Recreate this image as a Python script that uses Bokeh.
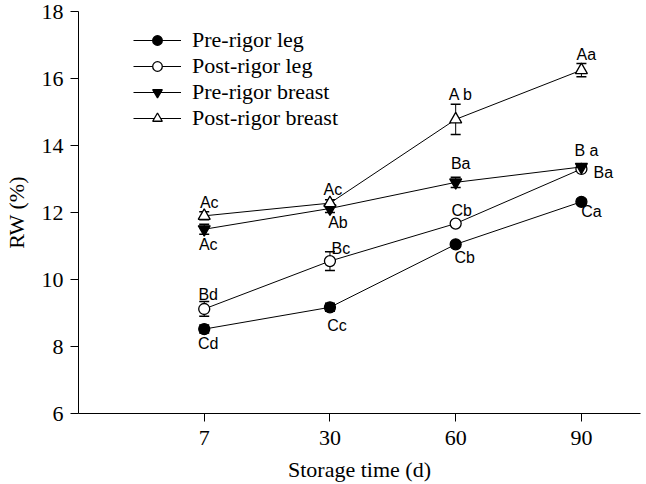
from bokeh.plotting import figure
from bokeh.models import (ColumnDataSource, Whisker, TeeHead, Legend, LegendItem,
                          FixedTicker, Range1d)
from bokeh.core.properties import value
from bokeh.embed import file_html
from bokeh.resources import INLINE

# ---- data ----
days = ["7", "30", "60", "90"]
pre_leg = [8.52, 9.17, 11.05, 12.32]
pre_leg_err = [0.12, 0.12, 0.06, 0.08]
post_leg = [9.12, 10.55, 11.67, 13.30]
post_leg_err = [0.22, 0.28, 0.06, 0.06]
pre_breast = [11.50, 12.12, 12.90, 13.36]
pre_breast_err = [0.15, 0.12, 0.15, 0.08]
post_breast = [11.90, 12.28, 14.78, 16.25]
post_breast_err = [0.12, 0.10, 0.45, 0.20]

pre_leg_letters = ["Cd", "Cc", "Cb", "Ca"]
post_leg_letters = ["Bd", "Bc", "Cb", "Ba"]
pre_breast_letters = ["Ac", "Ab", "Ba", "B a"]
post_breast_letters = ["Ac", "Ac", "A b", "Aa"]

y_ticks = [6, 8, 10, 12, 14, 16, 18]

# ---- figure ----
p = figure(width=646, height=484, output_backend="svg", toolbar_location=None,
           x_range=Range1d(0, 4.47), y_range=Range1d(6, 18),
           min_border_left=77, min_border_right=6, min_border_top=11, min_border_bottom=69)
p.outline_line_color = None
p.xgrid.visible = False
p.ygrid.visible = False
p.background_fill_color = "white"

xpos = [i + 1 for i in range(len(days))]

serif = "Liberation Serif"
for ax in (p.xaxis[0], p.yaxis[0]):
    ax.axis_line_color = "black"
    ax.axis_line_width = 1
    ax.major_tick_line_color = "black"
    ax.major_tick_out = 8
    ax.major_tick_in = 0
    ax.minor_tick_line_color = None
    ax.major_label_text_font = serif
    ax.major_label_text_font_size = "22px"
    ax.major_label_text_color = "black"
    ax.axis_label_text_font = serif
    ax.axis_label_text_font_size = "22px"
    ax.axis_label_text_font_style = "normal"
    ax.axis_label_text_color = "black"

p.xaxis.ticker = FixedTicker(ticks=xpos)
p.xaxis.major_label_overrides = {x: d for x, d in zip(xpos, days)}
p.xaxis.axis_label = "Storage time (d)"
p.xaxis.major_label_standoff = 9
p.xaxis.axis_label_standoff = 9
p.yaxis.ticker = FixedTicker(ticks=y_ticks)
p.yaxis.axis_label = "RW (%)"
p.yaxis.major_label_standoff = 7
p.yaxis.axis_label_standoff = 10

series = [
    ("Pre-rigor leg", pre_leg, pre_leg_err, "circle", "black", 11),
    ("Post-rigor leg", post_leg, post_leg_err, "circle", "white", 11),
    ("Pre-rigor breast", pre_breast, pre_breast_err, "inverted_triangle", "black", 12),
    ("Post-rigor breast", post_breast, post_breast_err, "triangle", "white", 12),
]

items = []
for name, vals, errs, marker, fill, size in series:
    src = ColumnDataSource(dict(x=xpos, y=vals,
                                upper=[v + e for v, e in zip(vals, errs)],
                                lower=[v - e for v, e in zip(vals, errs)]))
    w = Whisker(base="x", upper="upper", lower="lower", source=src,
                line_color="black", line_width=1,
                upper_head=TeeHead(size=10, line_color="black", line_width=1.5),
                lower_head=TeeHead(size=10, line_color="black", line_width=1.5))
    p.add_layout(w)
    r_line = p.line("x", "y", source=src, line_color="black", line_width=1)
    r_pt = p.scatter("x", "y", source=src, marker=marker, size=size,
                     fill_color=fill, line_color="black", line_width=1.3)
    items.append(LegendItem(label=name, renderers=[r_line, r_pt]))

# letter annotations (offsets in screen pixels; positive dy = downward)
label_sets = [
    (pre_leg, pre_leg_letters, [(4, 14), (7, 18), (9, 13), (10, 10)]),
    (post_leg, post_leg_letters, [(4, -14), (11, -13), (6, -13), (22, 4)]),
    (pre_breast, pre_breast_letters, [(4, 15), (8, 14), (5, -19), (5, -16)]),
    (post_breast, post_breast_letters, [(5, -13), (3, -14), (5, -25), (5, -16)]),
]
for vals, letters, offs in label_sets:
    src = ColumnDataSource(dict(x=xpos, y=vals, t=letters,
                                dx=[o[0] for o in offs], dy=[o[1] for o in offs]))
    p.text("x", "y", text="t", source=src, x_offset="dx", y_offset="dy",
           text_font=value("Liberation Sans"), text_font_size="16px",
           text_color="black", text_align="center", text_baseline="middle")

legend = Legend(items=items, location=(55, 282), margin=0, padding=0, spacing=0,
                glyph_width=48, glyph_height=24, label_height=24, label_standoff=11,
                label_text_font=serif, label_text_font_size="22px",
                label_text_color="black", border_line_color=None,
                background_fill_alpha=0)
p.add_layout(legend)

open("out.html", "w").write(file_html(p, INLINE))
